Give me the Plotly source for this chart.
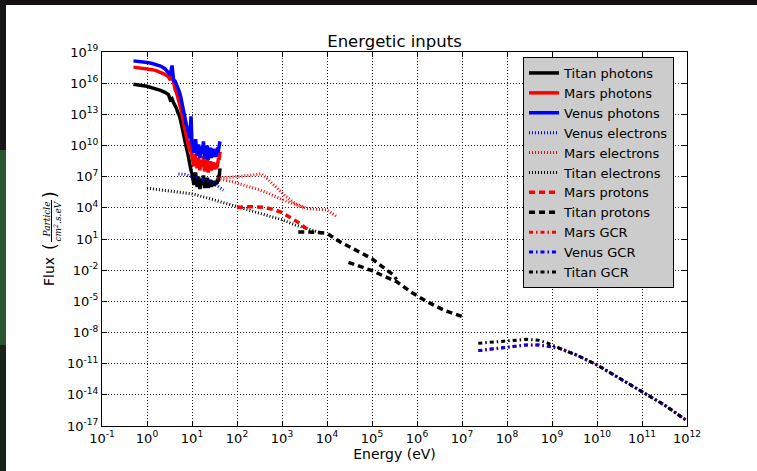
import plotly.graph_objects as go

# ---------------- data ----------------
photon_energy = [0.5, 0.6, 0.8, 1.0, 1.3, 1.6, 2.0, 2.5, 3.0, 3.3, 3.6, 3.9, 4.2, 4.5, 4.8,
                 5.2, 5.6, 6.0, 6.5, 7.0, 7.5, 8.0, 8.5, 9.0, 9.5, 10,
                 11, 12, 13, 14, 15, 16, 17, 18, 19, 20, 21, 22, 23, 24, 25, 26, 27,
                 28, 29, 30, 31, 32, 33, 34, 35, 36, 37, 38, 39, 40, 41, 42]

titan_photons = [7.9e15, 7.1e15, 6.0e15, 5.0e15, 3.5e15, 2.8e15, 2.0e15, 1.3e15, 7.9e14, 2.5e14,
                 3.2e14, 1.3e14, 7.9e13, 4.0e13, 1.6e13, 7.9e12, 2.5e12, 5.0e11, 7.9e10, 2.0e10,
                 6.3e9, 2.0e9, 4.0e8, 1.0e8, 4.0e7, 2.0e7,
                 1.6e6, 2.5e7, 1.0e6, 1.0e7, 6.3e5, 6.3e6, 1.6e6, 1.3e7, 7.9e5, 4.0e6, 1.3e6,
                 7.9e6, 7.9e5, 3.2e6, 1.6e6, 5.0e6, 1.0e6, 2.5e6, 1.3e6, 4.0e6, 1.3e6, 2.0e6,
                 4.0e6, 1.6e6, 3.2e6, 2.0e6, 6.3e6, 3.2e6, 1.3e7, 7.9e6, 2.5e7, 6.3e7]

mars_photons = [3.5e17, 3.2e17, 2.8e17, 2.5e17, 2.0e17, 1.6e17, 1.1e17, 7.0e16, 4.0e16, 2.0e16,
                7.9e16, 6.3e15, 2.5e15, 1.3e15, 5.0e14, 1.6e14, 4.0e13, 7.9e12, 1.3e12, 2.5e11,
                6.3e10, 2.0e10, 6.3e9, 2.5e9, 6.3e10, 7.9e8,
                1.0e8, 1.6e9, 6.3e7, 6.3e8, 4.0e7, 4.0e8, 7.9e7, 1.0e9, 3.2e7, 2.0e8, 6.3e7,
                5.0e8, 2.5e7, 1.6e8, 6.3e7, 3.2e8, 4.0e7, 1.3e8, 6.3e7, 2.5e8, 5.0e7, 1.0e8,
                2.0e8, 5.0e7, 1.6e8, 7.9e7, 3.2e8, 1.3e8, 6.3e8, 4.0e8, 1.3e9, 2.5e9]

venus_photons = [1.4e18, 1.3e18, 1.2e18, 1.0e18, 7.9e17, 6.3e17, 4.5e17, 2.5e17, 1.1e17, 6.3e16,
                 5.0e17, 2.0e16, 1.6e16, 7.9e15, 4.0e15, 1.6e15, 5.0e14, 1.0e14, 1.6e13, 3.2e12,
                 1.0e12, 4.0e11, 1.3e11, 5.0e10, 6.3e12, 1.6e10,
                 2.0e9, 4.0e10, 1.0e9, 1.3e10, 6.3e8, 7.9e9, 1.6e9, 2.5e10, 5.0e8, 4.0e9, 1.0e9,
                 1.0e10, 4.0e8, 3.2e9, 1.3e9, 6.3e9, 6.3e8, 2.5e9, 1.0e9, 5.0e9, 7.9e8, 2.0e9,
                 4.0e9, 7.9e8, 3.2e9, 1.6e9, 6.3e9, 2.0e9, 1.0e10, 5.0e9, 1.6e10, 2.5e10]

venus_electrons_energy = [5, 7, 10, 15, 20, 30, 40, 50]
venus_electrons = [1.8e7, 1.6e7, 1.0e7, 7.1e6, 5.0e6, 2.5e6, 1.0e6, 5.0e5]

mars_electrons_energy = [3000, 1500, 1000, 500, 300, 150, 80, 35,
                         60, 100, 200, 350, 500, 800, 1200, 2000, 3500, 6000, 10000, 17000]
mars_electrons = [1.1e4, 3.5e4, 6.3e4, 2.5e5, 5.6e5, 1.4e6, 3.2e6, 7.1e6,
                  7.9e6, 1.0e7, 1.4e7, 1.9e7, 5.0e6, 7.9e5, 1.3e5, 2.5e4, 8.9e3, 7.1e3, 6.3e3, 1.3e3]

titan_electrons_energy = [1, 2, 5, 10, 20, 50, 100, 200, 500, 1000, 2000, 5000, 8000]
titan_electrons = [7.9e5, 5.6e5, 3.5e5, 2.2e5, 1.0e5, 3.2e4, 1.3e4, 5.0e3, 1.8e3, 7.1e2, 2.2e2, 63, 35]

mars_protons_energy = [100, 200, 400, 700, 1000, 1500, 2300, 3500]
mars_protons = [1.1e4, 1.3e4, 1.1e4, 6.3e3, 3.5e3, 1.3e3, 400, 100]

titan_protons_energy = [2300, 5000, 1e4, 2e4, 5e4, 1e5, 2e5, 3e5, 3.5e5, None,
                        3e4, 5e4, 1e5, 1.8e5, 3.5e5, 8e5, 1.7e6, 4e6, 1e7]
titan_protons = [48, 45, 35, 5.0, 0.63, 0.126, 0.0126, 3.5e-3, 1.26e-3, None,
                 0.056, 0.025, 8.9e-3, 2.8e-3, 7.9e-4, 6.3e-5, 8.9e-6, 1.4e-6, 3.5e-7]

gcr_energy = [2.3e7, 5e7, 1e8, 2.7e8, 5e8, 7.6e8, 1.5e9, 3.5e9, 1e10, 3.2e10, 1e11, 3.2e11, 1e12]
mars_gcr = [1.8e-10, 2.8e-10, 3.8e-10, 6.3e-10, 6.3e-10, 5.0e-10, 2.8e-10, 6.8e-11,
            7.6e-12, 4.0e-13, 2.0e-14, 1.0e-15, 3.2e-17]
venus_gcr = [1.8e-10, 2.8e-10, 3.8e-10, 6.3e-10, 6.3e-10, 5.0e-10, 2.8e-10, 6.8e-11,
             7.6e-12, 4.0e-13, 2.0e-14, 1.0e-15, 3.2e-17]
titan_gcr = [9.1e-10, 1.26e-9, 1.6e-9, 2.2e-9, 1.8e-9, 1.05e-9, 3.0e-10, 6.8e-11,
             7.6e-12, 4.0e-13, 2.0e-14, 1.0e-15, 3.2e-17]

x_tick_exps = list(range(-1, 13))
y_tick_exps = list(range(-17, 20, 3))

# ---------------- figure ----------------
W, H = 757, 471
ML, MR, MT, MB = 102, 70, 52, 45
PW, PH = W - ML - MR, H - MT - MB


def px_x(px):
    return (px - ML) / PW


def px_y(py):
    return (H - MB - py) / PH


fig = go.Figure()

DOT = "1px,2px"
DASH = "6px,4px"
DASHDOT = "4px,3px,1.5px,3px"

series = [
    ("Titan photons", photon_energy, titan_photons, "black", 3.5, "solid"),
    ("Mars photons", photon_energy, mars_photons, "red", 3.5, "solid"),
    ("Venus photons", photon_energy, venus_photons, "blue", 3.5, "solid"),
    ("Venus electrons", venus_electrons_energy, venus_electrons, "blue", 3, DOT),
    ("Mars electrons", mars_electrons_energy, mars_electrons, "red", 3, DOT),
    ("Titan electrons", titan_electrons_energy, titan_electrons, "black", 3, DOT),
    ("Mars protons", mars_protons_energy, mars_protons, "red", 3.5, DASH),
    ("Titan protons", titan_protons_energy, titan_protons, "black", 3.5, DASH),
    ("Mars GCR", gcr_energy, mars_gcr, "red", 3, DASHDOT),
    ("Venus GCR", gcr_energy, venus_gcr, "blue", 3, DASHDOT),
    ("Titan GCR", gcr_energy, titan_gcr, "black", 3, DASHDOT),
]

for name, xs, ys, color, width, dash in series:
    fig.add_trace(go.Scatter(
        x=xs, y=ys, name=name, mode="lines", connectgaps=False,
        line=dict(color=color, width=width, dash=dash),
    ))

axis_common = dict(
    type="log",
    showline=True, linecolor="black", linewidth=1, mirror="ticks",
    ticks="inside", ticklen=5, tickcolor="black", tickwidth=1,
    showgrid=True, gridcolor="#222222", gridwidth=1, griddash="1px,2px",
    zeroline=False,
    tickfont=dict(family="DejaVu Sans", size=13, color="black"),
)

fig.update_xaxes(
    **axis_common,
    range=[-1, 12],
    tickvals=[10.0 ** e for e in x_tick_exps],
    ticktext=[f"10<sup>{e}</sup>" for e in x_tick_exps],
    title=dict(text="Energy (eV)", font=dict(family="DejaVu Sans", size=14, color="black"), standoff=3),
)
fig.update_yaxes(
    **axis_common,
    range=[-17, 19],
    tickvals=[10.0 ** e for e in y_tick_exps],
    ticktext=[f"10<sup>{e}</sup>" for e in y_tick_exps],
)

ann_font = dict(family="DejaVu Sans", size=14, color="black")
frac_font = dict(family="DejaVu Serif", size=9, color="black")
annotations = [
    dict(text="Flux", x=px_x(49), y=px_y(272), font=ann_font),
    dict(text="(", x=px_x(50), y=px_y(247), font=dict(family="DejaVu Sans", size=17, color="black")),
    dict(text=")", x=px_x(50), y=px_y(195), font=dict(family="DejaVu Sans", size=17, color="black")),
    dict(text="<i>Particle</i>", x=px_x(46.5), y=px_y(220), font=frac_font),
    dict(text="<i>cm<sup>2</sup>.s.eV</i>", x=px_x(57.5), y=px_y(221), font=frac_font),
]
for a in annotations:
    a.update(xref="paper", yref="paper", xanchor="center", yanchor="middle",
             textangle=-90, showarrow=False)

fig.update_layout(
    width=W, height=H,
    margin=dict(l=ML, r=MR, t=MT, b=MB),
    paper_bgcolor="white", plot_bgcolor="white",
    font=dict(family="DejaVu Sans", color="black"),
    title=dict(text="Energetic inputs", x=0.5, xref="paper", xanchor="center",
               y=1.0, yref="paper", yanchor="bottom", pad=dict(b=5),
               font=dict(family="DejaVu Sans", size=16.5, color="black")),
    legend=dict(
        x=px_x(523), y=px_y(57), xanchor="left", yanchor="top",
        bgcolor="#cccccc", bordercolor="black", borderwidth=1,
        font=dict(family="DejaVu Sans", size=13, color="black"),
        itemwidth=30, tracegroupgap=0,
    ),
    annotations=annotations,
    shapes=[
        # fraction bar of the y-axis unit
        dict(type="line", xref="paper", yref="paper", x0=px_x(51.5), x1=px_x(51.5),
             y0=px_y(200), y1=px_y(242), line=dict(color="black", width=1)),
        # dark frame of the original screenshot
        dict(type="rect", xref="paper", yref="paper", x0=-0.3, x1=1.3,
             y0=px_y(5), y1=1.3, fillcolor="#141011", line_width=0, layer="above"),
        dict(type="rect", xref="paper", yref="paper", x0=-0.3, x1=px_x(6),
             y0=px_y(150), y1=1.3, fillcolor="#161615", line_width=0, layer="above"),
        dict(type="rect", xref="paper", yref="paper", x0=-0.3, x1=px_x(6),
             y0=px_y(345), y1=px_y(150), fillcolor="#2a5530", line_width=0, layer="above"),
        dict(type="rect", xref="paper", yref="paper", x0=-0.3, x1=px_x(6),
             y0=-0.3, y1=px_y(345), fillcolor="#1a231b", line_width=0, layer="above"),
    ],
)

fig.write_html("out.html")
